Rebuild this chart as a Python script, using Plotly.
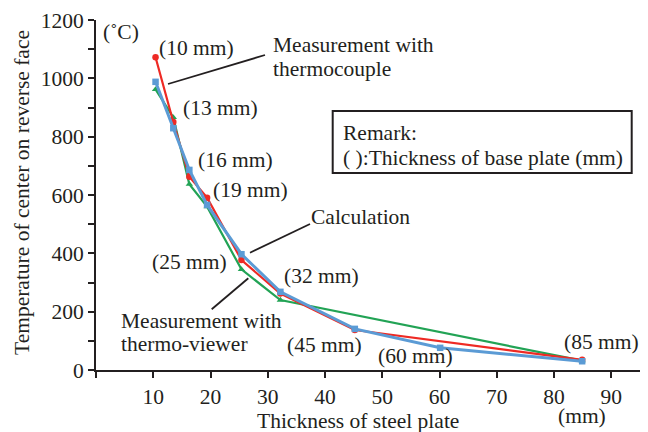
import plotly.graph_objects as go

# Data (thickness in mm, temperature in °C)
x_tc = [10.4, 13.5, 16.3, 19.4, 25.4, 32.2, 45.2, 84.9]
y_tc = [1072, 850, 663, 591, 377, 262, 137, 35]

x_calc = [10.4, 13.5, 16.3, 19.4, 25.4, 32.2, 45.2, 60.1, 84.9]
y_calc = [988, 829, 686, 566, 397, 268, 141, 76, 30]

x_tv = [10.4, 13.5, 16.3, 19.4, 25.4, 32.2, 84.9]
y_tv = [962, 866, 637, 560, 345, 240, 32]

x_ticks = [0, 10, 20, 30, 40, 50, 60, 70, 80, 90]
y_ticks = list(range(0, 1300, 100))

FONT = "Liberation Serif"
W, H = 648, 432
L, R, T, B = 96, 8, 20, 62
XR = (0, 95)
YR = (0, 1200)


def px_x(px):
    # pixel x -> paper fraction of plot area
    return (px - L) / (W - L - R)


def px_y(py):
    # pixel y -> paper fraction of plot area
    return (H - B - py) / (H - B - T)


fig = go.Figure()
fig.add_trace(go.Scatter(x=x_tv, y=y_tv, mode="lines+markers",
                         line=dict(color="#22a355", width=2.2),
                         marker=dict(symbol="triangle-up", size=6.5, color="#22a355"),
                         name="Measurement with thermo-viewer"))
fig.add_trace(go.Scatter(x=x_tc, y=y_tc, mode="lines+markers",
                         line=dict(color="#ee2a24", width=2.2),
                         marker=dict(symbol="circle", size=6.5, color="#ee2a24"),
                         name="Measurement with thermocouple"))
fig.add_trace(go.Scatter(x=x_calc, y=y_calc, mode="lines+markers",
                         line=dict(color="#5b9bd5", width=3),
                         marker=dict(symbol="square", size=6.5, color="#5b9bd5"),
                         name="Calculation"))

tfont = dict(family=FONT, size=21.5, color="#231f20")

centered = [
    ("(10 mm)", 196, 48), ("(13 mm)", 220, 108), ("(16 mm)", 235, 160),
    ("(19 mm)", 250, 190), ("(25 mm)", 189.5, 262), ("(32 mm)", 321, 276),
    ("(45 mm)", 324, 345), ("(60 mm)", 415, 356), ("(85 mm)", 601.5, 342),
    ("(˚C)", 121, 32), ("(mm)", 582, 416),
    ("Thickness of steel plate", 358, 421),
]
for txt, px, py in centered:
    fig.add_annotation(xref="paper", yref="paper", x=px_x(px), y=px_y(py),
                       text=txt, showarrow=False,
                       xanchor="center", yanchor="middle", font=tfont)

fig.add_annotation(xref="paper", yref="paper", x=px_x(21.5), y=px_y(192.5),
                   text="Temperature of center on reverse face", textangle=-90,
                   showarrow=False, xanchor="center", yanchor="middle", font=tfont)

left_texts = [
    ("Measurement with", 271, 45), ("thermocouple", 271, 69),
    ("Calculation", 309, 217),
    ("Measurement with", 119, 321), ("thermo-viewer", 119, 344),
    ("Remark:", 341, 133), ("( ):Thickness of base plate (mm)", 341, 158),
]
for txt, px, py in left_texts:
    fig.add_annotation(xref="paper", yref="paper", x=px_x(px), y=px_y(py),
                       text=txt, showarrow=False,
                       xanchor="left", yanchor="middle", font=tfont)

lines = [((168, 84), (265, 55)), ((250, 252.7), (310, 224)), ((248.3, 278.3), (211.7, 309.3))]
for (x0, y0), (x1, y1) in lines:
    fig.add_shape(type="line", xref="paper", yref="paper",
                  x0=px_x(x0), y0=px_y(y0), x1=px_x(x1), y1=px_y(y1),
                  line=dict(color="#231f20", width=1.8))

fig.add_shape(type="rect", xref="paper", yref="paper",
              x0=px_x(332.7), y0=px_y(111), x1=px_x(631.7), y1=px_y(173),
              line=dict(color="#231f20", width=2), fillcolor="rgba(0,0,0,0)")

fig.update_layout(
    width=W, height=H, margin=dict(l=L, r=R, t=T, b=B),
    paper_bgcolor="white", plot_bgcolor="white", showlegend=False,
    font=tfont,
    xaxis=dict(range=list(XR), tickvals=x_ticks,
               ticktext=["" if v == 0 else str(v) for v in x_ticks],
               ticks="outside", ticklen=6, tickwidth=2, tickcolor="#231f20",
               showline=True, linewidth=2, linecolor="#231f20", showgrid=False,
               zeroline=False, tickfont=tfont),
    yaxis=dict(range=list(YR), tickvals=y_ticks,
               ticktext=[str(v) if v % 200 == 0 else "" for v in y_ticks],
               ticks="outside", ticklen=6, tickwidth=2, tickcolor="#231f20",
               showline=True, linewidth=2, linecolor="#231f20", showgrid=False,
               zeroline=False, tickfont=tfont),
)

fig.write_html("out.html")
